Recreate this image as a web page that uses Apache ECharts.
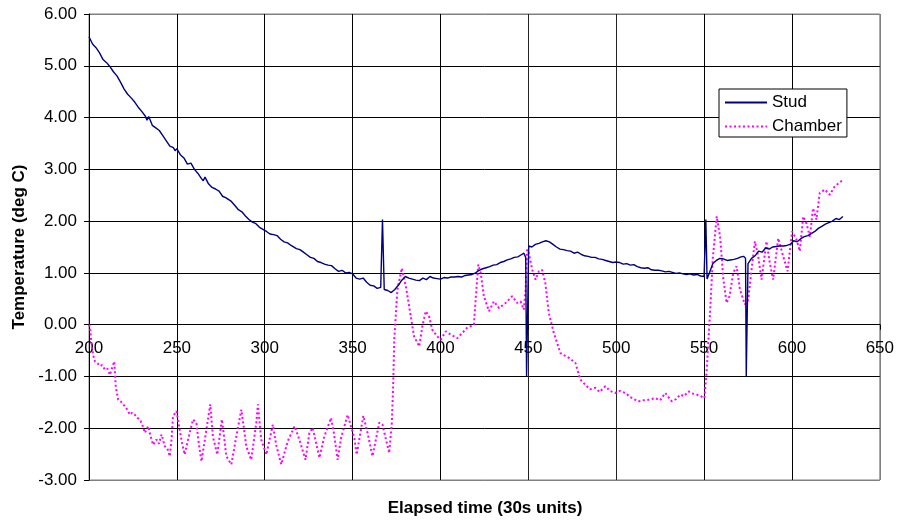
<!DOCTYPE html>
<html>
<head>
<meta charset="utf-8">
<script src="https://cdn.jsdelivr.net/npm/echarts@6/dist/echarts.min.js"></script>
<style>
  html, body { margin: 0; padding: 0; background: #fff; }
  #chart { width: 897px; height: 521px; }
</style>
</head>
<body>
<div id="chart"></div>
<script>
// Stud temperature readings (elapsed time, deg C)
const studX = [200, 202, 204, 206, 208, 210, 212, 214, 216, 218, 220, 222, 224, 226, 228, 230, 232, 233, 234, 236, 238, 240, 242, 244, 246, 248, 249, 250, 252, 254, 256, 258, 260, 262, 264, 265, 266, 268, 270, 272, 274, 276, 278, 279, 281, 283, 285, 287, 289, 291, 293, 295, 297, 299, 301, 303, 305, 307, 309, 311, 313, 315, 316, 318, 320, 322, 324, 326, 328, 330, 332, 334, 336, 338, 340, 342, 344, 346, 348, 350, 352, 354, 356, 358, 360, 362, 364, 366, 367, 368, 370, 372, 374, 376, 378, 380, 382, 384, 386, 388, 390, 392, 394, 396, 398, 400, 402, 404, 406, 408, 410, 412, 414, 416, 418, 420, 422, 424, 426, 428, 430, 432, 434, 436, 438, 440, 442, 444, 446, 447.5, 448.5, 449, 449.6, 450.2, 452, 454, 456, 458, 460, 462, 464, 466, 468, 470, 472, 474, 476, 478, 480, 482, 484, 486, 488, 490, 492, 494, 496, 498, 500, 502, 504, 506, 508, 510, 512, 514, 516, 518, 520, 522, 524, 526, 528, 530, 532, 534, 536, 538, 540, 542, 544, 546, 548, 550, 551, 551.7, 553, 555, 557, 559, 561, 563, 565, 567, 569, 571, 572.5, 573.6, 574, 574.5, 575, 577, 579, 581, 583, 585, 587, 589, 591, 593, 595, 597, 599, 601, 603, 605, 607, 609, 611, 613, 615, 617, 619, 621, 623, 625, 627, 629];
const studY = [5.56, 5.42, 5.35, 5.25, 5.12, 5.06, 4.98, 4.88, 4.80, 4.68, 4.55, 4.45, 4.38, 4.30, 4.20, 4.12, 4.03, 3.95, 4.02, 3.85, 3.80, 3.75, 3.65, 3.55, 3.45, 3.42, 3.36, 3.40, 3.28, 3.22, 3.10, 3.12, 3.00, 2.92, 2.82, 2.78, 2.85, 2.72, 2.65, 2.62, 2.58, 2.48, 2.45, 2.47, 2.38, 2.30, 2.22, 2.18, 2.10, 2.03, 1.98, 1.95, 1.88, 1.84, 1.80, 1.75, 1.74, 1.72, 1.65, 1.60, 1.58, 1.53, 1.56, 1.47, 1.45, 1.40, 1.35, 1.30, 1.28, 1.22, 1.20, 1.17, 1.15, 1.14, 1.08, 1.03, 1.05, 1.00, 1.01, 0.98, 0.90, 0.88, 0.90, 0.82, 0.76, 0.75, 0.70, 0.72, 2.03, 0.68, 0.66, 0.62, 0.68, 0.76, 0.86, 0.93, 0.90, 0.88, 0.86, 0.85, 0.90, 0.87, 0.93, 0.90, 0.89, 0.88, 0.91, 0.90, 0.92, 0.92, 0.93, 0.92, 0.95, 0.96, 0.97, 1.00, 1.05, 1.08, 1.10, 1.12, 1.15, 1.16, 1.20, 1.22, 1.25, 1.27, 1.30, 1.31, 1.35, 1.38, 1.30, -1.00, -1.00, 1.52, 1.50, 1.55, 1.57, 1.60, 1.62, 1.60, 1.55, 1.50, 1.46, 1.45, 1.43, 1.42, 1.38, 1.40, 1.36, 1.33, 1.32, 1.30, 1.30, 1.27, 1.26, 1.24, 1.22, 1.20, 1.21, 1.20, 1.17, 1.18, 1.15, 1.16, 1.12, 1.10, 1.09, 1.10, 1.06, 1.05, 1.05, 1.04, 1.02, 1.03, 1.01, 0.99, 1.00, 0.98, 0.97, 0.98, 0.96, 0.97, 0.94, 0.93, 2.03, 0.88, 1.00, 1.18, 1.24, 1.28, 1.27, 1.24, 1.25, 1.26, 1.28, 1.31, 1.32, 1.28, -1.00, -1.00, 1.18, 1.28, 1.33, 1.42, 1.40, 1.48, 1.46, 1.50, 1.51, 1.52, 1.52, 1.53, 1.55, 1.62, 1.60, 1.66, 1.70, 1.72, 1.76, 1.80, 1.86, 1.90, 1.94, 1.97, 2.00, 2.05, 2.03, 2.09];

// Chamber air temperature readings
const chamberX = [200, 200.6, 201.5, 202.5, 203.4, 205, 206.2, 207.5, 209.1, 210.5, 211.9, 213, 214.4, 215.2, 216.6, 218, 219.5, 221, 223.3, 224.5, 226.1, 227.5, 229, 230.5, 231.8, 233.7, 235, 236.5, 238.4, 239.8, 241.3, 243.1, 244.5, 246, 247, 247.8, 249.8, 251.6, 253, 254.5, 256.5, 259.2, 261.1, 262.5, 264, 266.8, 269, 270.5, 273, 275.6, 277, 278.1, 281, 283.8, 286.7, 287.6, 289.5, 292.3, 295.2, 296.1, 298, 300.9, 304.6, 306.5, 309.4, 313.1, 317, 319.7, 323.2, 325.4, 327.3, 331.1, 333.9, 337.7, 339.2, 341.5, 343.4, 347.2, 351, 352.3, 356.1, 358.5, 361.3, 365.2, 367, 370.8, 372.3, 373.1, 373.7, 375.5, 378, 380.3, 383.1, 385, 387.9, 389.7, 391.6, 393.5, 395.4, 398.2, 400.2, 403, 405.8, 409.6, 412.4, 415.2, 419, 420, 421.5, 422.9, 424.7, 427.6, 430.4, 433.3, 437.1, 440.8, 443.6, 445.6, 447.4, 448.5, 449.3, 450.3, 452.2, 454.1, 456, 457.8, 459.7, 461.6, 464.5, 468.3, 473, 476.8, 479.6, 482.4, 485, 488.1, 490.5, 493.8, 496.5, 499.5, 502, 505.2, 508, 510.8, 512.7, 515.5, 518.4, 522.2, 525, 527.9, 531.6, 534, 536.4, 538.5, 541.1, 543.5, 545.8, 548, 550.2, 551.5, 553.4, 555, 557.2, 559.1, 561, 562.8, 564.5, 566.6, 568.5, 570.4, 573.2, 575.1, 577, 578.9, 580.8, 582.7, 585.5, 587.4, 589.3, 592.2, 595, 597.5, 600.1, 602.6, 604.5, 606.4, 608.2, 610.2, 612, 613.9, 615.8, 618.7, 621.5, 624.3, 628.1, 629.5];
const chamberY = [0.0, -0.05, -0.42, -0.60, -0.71, -0.75, -0.80, -0.78, -0.87, -0.85, -0.97, -0.85, -0.71, -1.19, -1.45, -1.48, -1.54, -1.60, -1.74, -1.70, -1.74, -1.80, -1.83, -1.95, -2.09, -1.96, -2.15, -2.32, -2.22, -2.30, -2.12, -2.35, -2.38, -2.54, -2.20, -1.77, -1.67, -2.03, -2.30, -2.51, -2.20, -1.83, -1.90, -2.30, -2.64, -2.03, -1.54, -2.16, -2.51, -1.83, -2.20, -2.54, -2.70, -2.16, -1.64, -1.67, -2.35, -2.61, -1.90, -1.54, -2.22, -2.51, -1.93, -2.32, -2.70, -2.25, -1.96, -2.22, -2.61, -2.09, -1.99, -2.57, -2.16, -1.80, -2.06, -2.61, -2.19, -1.74, -2.19, -2.51, -1.76, -2.09, -2.54, -1.89, -1.93, -2.48, -1.90, -1.16, -0.29, 0.68, 1.09, 0.74, 0.16, -0.23, -0.42, -0.03, 0.26, 0.16, -0.10, -0.23, -0.29, -0.13, -0.19, -0.26, -0.16, -0.06, 0.0, 0.48, 1.16, 1.00, 0.55, 0.26, 0.45, 0.32, 0.42, 0.55, 0.42, 0.45, 0.29, 0.70, 1.45, 1.38, 1.06, 0.87, 1.03, 1.06, 0.80, 0.23, -0.16, -0.55, -0.64, -0.74, -1.06, -1.16, -1.25, -1.22, -1.30, -1.19, -1.28, -1.32, -1.28, -1.32, -1.40, -1.45, -1.48, -1.46, -1.45, -1.42, -1.46, -1.32, -1.48, -1.44, -1.35, -1.38, -1.29, -1.33, -1.35, -1.38, -1.42, -0.87, 0.23, 1.30, 2.09, 1.70, 0.87, 0.42, 0.55, 1.00, 1.13, 0.68, 0.39, 0.48, 1.06, 1.61, 1.32, 0.87, 1.61, 1.19, 0.87, 1.67, 1.32, 1.03, 1.80, 1.64, 1.42, 2.09, 1.96, 1.70, 2.25, 2.03, 2.54, 2.61, 2.51, 2.67, 2.77, 2.78];

const seriesNames = ["Stud", "Chamber"];

const FONT = "'Liberation Sans', Arial, sans-serif";
const Y_MIN = -3;
const Y_MAX = 6;
const GRID_TOP = 14;
const GRID_BOTTOM = 41;
const CHART_H = 521;
// x axis crosses at y = 0: shift it up from the bottom edge of the grid
const gridH = CHART_H - GRID_TOP - GRID_BOTTOM;
const xAxisOffset = -gridH * (0 - Y_MIN) / (Y_MAX - Y_MIN);

const chart = echarts.init(document.getElementById("chart"), null, { renderer: "canvas" });

const studData = studX.map((x, i) => [x, studY[i]]);
const chamberData = chamberX.map((x, i) => [x, chamberY[i]]);

const option = {
  animation: false,
  backgroundColor: "#fff",
  grid: {
    left: 89,
    right: 14,
    top: GRID_TOP,
    bottom: GRID_BOTTOM,
    show: true,
    borderColor: "#808080",
    borderWidth: 1,
  },
  legend: {
    orient: "vertical",
    left: 719,
    top: 89,
    padding: [5, 5, 2, 5],
    itemGap: 7,
    itemWidth: 42,
    itemHeight: 17,
    backgroundColor: "#fff",
    borderColor: "#000",
    borderWidth: 1,
    borderRadius: 0,
    itemStyle: { opacity: 0 },
    textStyle: { fontFamily: FONT, fontSize: 17, color: "#000" },
    data: seriesNames,
  },
  xAxis: {
    type: "value",
    min: 200,
    max: 650,
    interval: 50,
    offset: xAxisOffset,
    axisLine: { onZero: false, lineStyle: { color: "#000", width: 1 } },
    axisTick: { show: true, length: 5, inside: false, lineStyle: { color: "#000" } },
    axisLabel: { fontFamily: FONT, fontSize: 17, color: "#000", margin: 15 },
    splitLine: {
      show: true,
      lineStyle: { color: ["#000", "#000", "#000", "#000", "#000", "#222", "#222", "#000", "#000", "#808080"], width: 1 },
    },
  },
  yAxis: {
    type: "value",
    min: Y_MIN,
    max: Y_MAX,
    interval: 1,
    name: "Temperature (deg C)",
    nameLocation: "middle",
    nameRotate: 90,
    nameGap: 58,
    nameTextStyle: { fontFamily: FONT, fontSize: 17, fontWeight: "bold", color: "#000" },
    axisLine: { show: true, onZero: false, lineStyle: { color: "#000", width: 1 } },
    axisTick: { show: true, length: 5, lineStyle: { color: "#000" } },
    axisLabel: {
      fontFamily: FONT,
      fontSize: 17,
      color: "#000",
      margin: 12,
      formatter: (v) => v.toFixed(2),
    },
    splitLine: {
      show: true,
      lineStyle: { color: ["#808080", "#000", "#000", "#000", "#000", "#000", "#000", "#000", "#000", "#808080"], width: 1 },
    },
  },
  graphic: [
    {
      type: "text",
      x: 485,
      y: 508,
      style: {
        text: "Elapsed time (30s units)",
        fontFamily: FONT,
        fontSize: 17,
        fontWeight: "bold",
        fill: "#000",
        align: "center",
        verticalAlign: "middle",
      },
    },
  ],
  series: [
    {
      name: seriesNames[0],
      type: "line",
      data: studData,
      symbol: "none",
      clip: true,
      z: 3,
      lineStyle: { color: "#000080", width: 1.4 },
      itemStyle: { color: "#000080" },
    },
    {
      name: seriesNames[1],
      type: "line",
      data: chamberData,
      symbol: "none",
      clip: true,
      z: 2,
      lineStyle: { color: "#ff00ff", width: 2, type: [2, 2.5] },
      itemStyle: { color: "#ff00ff" },
    },
  ],
};

chart.setOption(option);
</script>
</body>
</html>
